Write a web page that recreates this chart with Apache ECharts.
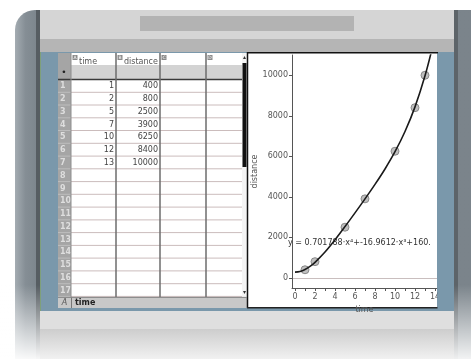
<!DOCTYPE html>
<html>
<head>
<meta charset="utf-8">
<script src="https://cdn.jsdelivr.net/npm/echarts@6/dist/echarts.min.js"></script>
<style>
  html, body { margin: 0; padding: 0; background: #fff; }
  #main { width: 471px; height: 359px; }
</style>
</head>
<body>
<div id="main"></div>
<script>
// spreadsheet + scatter data
const times = [1, 2, 5, 7, 10, 12, 13];
const distances = [400, 800, 2500, 3900, 6250, 8400, 10000];
// regression curve
const fitX = [0, 0.5, 1, 1.5, 2, 3, 4, 5, 6, 7, 8, 9, 10, 11, 12, 13, 13.8];
const fitY = [283, 313, 411, 566, 768, 1277, 1879, 2532, 3208, 3899, 4613, 5375, 6225, 7222, 8440, 9973, 11497];
const xTickValues = [0, 1, 2, 3, 4, 5, 6, 7, 8, 9, 10, 11, 12, 13, 14];
const xLabelValues = [0, 2, 4, 6, 8, 10, 12, 14];
const yLabelValues = [0, 2000, 4000, 6000, 8000, 10000];
const columnLetters = ["A", "B", "C", "D"];
const columnNames = ["time", "distance", "", ""];
const rowCount = 17;
const equation = "y = 0.701788\u00b7x\u2074+-16.9612\u00b7x\u00b3+160.";

const px = (n) => Math.round(n * 10) / 10;

var myChart = echarts.init(document.getElementById("main"));

// ---- device frame + screen chrome
const g = [];
const rect = (x, y, w, h, fill, z, extra) =>
  g.push(Object.assign({ type: "rect", shape: { x, y, width: w, height: h }, style: { fill }, z: z, silent: true }, extra || {}));
const line = (x1, y1, x2, y2, stroke, lw, z) =>
  g.push({ type: "line", shape: { x1, y1, x2, y2 }, style: { stroke, lineWidth: lw }, z: z, silent: true });
const text = (x, y, t, opts, z) =>
  g.push({ type: "text", x, y, style: Object.assign({ text: t, fontFamily: "DejaVu Sans", fontSize: 8, fill: "#444" }, opts), z: z, silent: true });

// body
g.push({
  type: "rect", shape: { x: 15, y: 10, width: 520, height: 420, r: 20 }, z: 0, silent: true,
  style: { fill: new echarts.graphic.LinearGradient(0, 0, 1, 0, [
    { offset: 0, color: "#a4acb2" }, { offset: 0.02, color: "#858e95" }, { offset: 0.05, color: "#79838a" },
    { offset: 0.9, color: "#7b848b" }, { offset: 1, color: "#8a939a" }]) }
});
rect(36, 10, 4, 349, "#565d62", 1);
rect(454, 10, 4, 349, "#5d6469", 1);
// screen header
rect(40, 10, 414, 29, "#d5d5d5", 1);
rect(140, 16, 214, 15, "#b3b3b3", 2);
rect(40, 39, 414, 13, "#b5b5b5", 1);
// blue work area
rect(40, 52, 414, 259, "#7a98ab", 1);
line(40.5, 52, 40.5, 311, "#7fa07a", 1, 2);
// screen bottom
rect(40, 311, 414, 18, "#dfdfdf", 1);
rect(40, 329, 414, 30, new echarts.graphic.LinearGradient(0, 0, 0, 1, [
  { offset: 0, color: "#cdcdcd" }, { offset: 1, color: "#f1f1f1" }]), 1);
// fade body to white at the bottom
g.push({
  type: "rect", shape: { x: 0, y: 285, width: 40, height: 74 }, z: 3, silent: true,
  style: { fill: new echarts.graphic.LinearGradient(0, 0, 0, 1, [
    { offset: 0, color: "rgba(255,255,255,0)" }, { offset: 1, color: "rgba(255,255,255,0.95)" }]) }
});
g.push({
  type: "rect", shape: { x: 454, y: 285, width: 17, height: 74 }, z: 3, silent: true,
  style: { fill: new echarts.graphic.LinearGradient(0, 0, 0, 1, [
    { offset: 0, color: "rgba(255,255,255,0)" }, { offset: 1, color: "rgba(255,255,255,0.9)" }]) }
});

// ---- spreadsheet
const colX = [58, 71, 116, 160, 206, 242];
const headTop = 53, headBot = 65, formBot = 80, rowH = 12.76;
const tableBot = formBot + rowCount * rowH;
rect(58, headTop, 184, tableBot - headTop, "#ffffff", 2);
rect(58, headTop, 13, tableBot - headTop, "#a5a5a5", 3);
rect(71, headBot, 171, formBot - headBot, "#d3d3d3", 3);
for (let i = 1; i <= rowCount; i++) {
  const y = px(formBot + i * rowH) - 0.5;
  line(71, y, 242, y, "#cbbcbc", 1, 4);
  line(58, y, 71, y, "#bdbdbd", 1, 4);
  text(60, formBot + (i - 0.5) * rowH, String(i), { fill: "#dedede", fontWeight: "bold", verticalAlign: "middle" }, 5);
}
line(58, formBot - 0.5, 242, formBot - 0.5, "#3a3a3a", 1.5, 5);
text(64, (headBot + formBot) / 2, "\u2022", { fill: "#222", align: "center", verticalAlign: "middle", fontSize: 9 }, 5);
line(71, headTop, 71, tableBot, "#8e8e8e", 1, 5);
for (let c = 2; c < colX.length - 1; c++) line(colX[c], headTop, colX[c], tableBot, "#6c6c6c", 1.5, 5);
columnLetters.forEach((l, c) => {
  rect(colX[c + 1] + 1.5, 55, 5, 5, "#8a8a8a", 5);
  text(colX[c + 1] + 4, 57.6, l, { fill: "#fff", fontSize: 4.5, align: "center", verticalAlign: "middle" }, 6);
  if (columnNames[c]) text(colX[c + 1] + 8, 62, columnNames[c], { fill: "#555", verticalAlign: "middle" }, 6);
});
times.forEach((t, i) => {
  const y = formBot + (i + 0.5) * rowH;
  text(colX[2] - 2, y, String(t), { align: "right", verticalAlign: "middle", fill: "#444" }, 6);
  text(colX[3] - 2, y, String(distances[i]), { align: "right", verticalAlign: "middle", fill: "#444" }, 6);
});
// scrollbar
rect(242, headTop, 5, tableBot - headTop, "#f4f4f4", 3);
rect(242.5, 63, 4, 104, "#111111", 5);
text(244.5, 57, "\u25b4", { fontSize: 6, fill: "#333", align: "center", verticalAlign: "middle" }, 5);
text(244.5, tableBot - 4, "\u25be", { fontSize: 6, fill: "#333", align: "center", verticalAlign: "middle" }, 5);
// status line
rect(58, tableBot, 189, 308 - tableBot, "#c8c8c8", 3);
line(71.5, tableBot, 71.5, 308, "#777", 1, 5);
line(58, tableBot + 0.5, 247, tableBot + 0.5, "#888", 1, 5);
text(64.5, (tableBot + 308) / 2, "A", { fontStyle: "italic", fill: "#555", align: "center", verticalAlign: "middle" }, 6);
text(75, (tableBot + 308) / 2, "time", { fontWeight: "bold", fill: "#222", verticalAlign: "middle" }, 6);

// ---- graph panel
rect(247, 52, 190, 256, "#ffffff", 2);
line(247.5, 52, 247.5, 308, "#111", 1.5, 4);
line(247, 52.7, 438, 52.7, "#111", 1.5, 4);
line(247, 307.8, 438, 307.8, "#222", 1.5, 4);
// equation of the fitted curve
text(288, 243, equation, { fill: "#333", fontSize: 8, verticalAlign: "middle" }, 8);
// right edge of the screen hides what runs past the panel
rect(437.5, 53.5, 16.5, 257.5, "#7a98ab", 20);

var option = {
  animation: false,
  graphic: { elements: g },
  grid: { left: 292, right: 34, top: 55, bottom: 71 },
  xAxis: {
    type: "value", min: -0.3, max: 14.2, z: 10,
    name: "time", nameLocation: "middle", nameGap: 10,
    nameTextStyle: { fontSize: 8, color: "#555", fontFamily: "DejaVu Sans" },
    axisLine: { onZero: false, lineStyle: { color: "#555", width: 1 } },
    axisTick: { customValues: xTickValues, length: 3, lineStyle: { color: "#555" } },
    axisLabel: { customValues: xLabelValues, fontSize: 8, color: "#555", margin: 5, fontFamily: "DejaVu Sans" },
    splitLine: { show: false },
  },
  yAxis: {
    type: "value", min: -500, max: 11000, z: 10,
    name: "distance", nameLocation: "middle", nameGap: 28,
    nameTextStyle: { fontSize: 8, color: "#555", fontFamily: "DejaVu Sans" },
    axisLine: { show: true, onZero: false, lineStyle: { color: "#555", width: 1 } },
    axisTick: { show: true, customValues: yLabelValues, length: 3, lineStyle: { color: "#555" } },
    axisLabel: {
      customValues: yLabelValues, fontSize: 8, color: "#555", margin: 4, fontFamily: "DejaVu Sans",
      formatter: (v) => String(v),
    },
    splitLine: { show: false },
  },
  series: [
    {
      type: "scatter", z: 11,
      data: times.map((t, i) => [t, distances[i]]),
      symbolSize: 8,
      itemStyle: { color: "rgba(150,150,150,0.75)", borderColor: "#777", borderWidth: 1 },
      markLine: {
        silent: true, symbol: "none", label: { show: false },
        lineStyle: { color: "#c9bebe", type: "solid", width: 1 },
        data: [{ yAxis: 0 }],
      },
    },
    {
      type: "line", z: 12,
      data: fitX.map((x, i) => [x, fitY[i]]),
      smooth: 0.35, showSymbol: false, clip: true,
      lineStyle: { color: "#1a1a1a", width: 1.6 },
    },
  ],
};
myChart.setOption(option);
</script>
</body>
</html>
